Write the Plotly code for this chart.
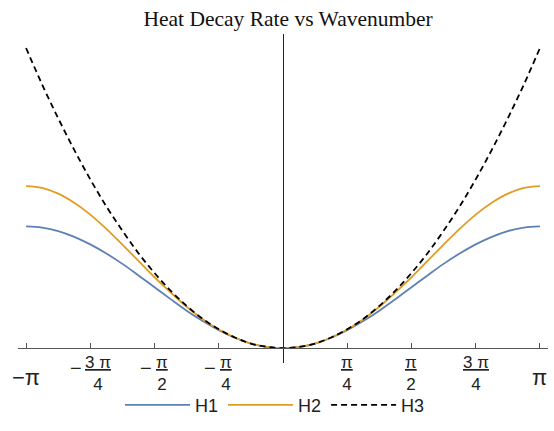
import plotly.graph_objects as go
import math

PI = math.pi

# wavenumber samples (multiples of pi/16)
k_vals = [j * PI / 16 for j in range(-16, 17)]

# decay rates
h1_vals = [4.00, 3.96, 3.85, 3.66, 3.41, 3.11, 2.77, 2.39, 2.00, 1.61, 1.23, 0.89, 0.59, 0.34, 0.15, 0.04, 0.00,
           0.04, 0.15, 0.34, 0.59, 0.89, 1.23, 1.61, 2.00, 2.39, 2.77, 3.11, 3.41, 3.66, 3.85, 3.96, 4.00]
h2_vals = [5.33, 5.27, 5.08, 4.78, 4.39, 3.92, 3.40, 2.87, 2.33, 1.83, 1.36, 0.95, 0.61, 0.35, 0.15, 0.04, 0.00,
           0.04, 0.15, 0.35, 0.61, 0.95, 1.36, 1.83, 2.33, 2.87, 3.40, 3.92, 4.39, 4.78, 5.08, 5.27, 5.33]
h3_vals = [9.87, 8.67, 7.56, 6.52, 5.55, 4.66, 3.86, 3.12, 2.47, 1.89, 1.39, 0.96, 0.62, 0.35, 0.15, 0.04, 0.00,
           0.04, 0.15, 0.35, 0.62, 0.96, 1.39, 1.89, 2.47, 3.12, 3.86, 4.66, 5.55, 6.52, 7.56, 8.67, 9.87]

series_names = ["H1", "H2", "H3"]

# tick positions and labels: (sign, numerator, denominator)
tick_vals = [-PI, -3 * PI / 4, -PI / 2, -PI / 4, PI / 4, PI / 2, 3 * PI / 4, PI]
tick_labels = [("−", "π", None), ("−", "3 π", "4"), ("−", "π", "2"), ("−", "π", "4"),
               ("", "π", "4"), ("", "π", "2"), ("", "3 π", "4"), ("", "π", None)]

title_text = "Heat Decay Rate vs Wavenumber"

fig = go.Figure()
fig.add_trace(go.Scatter(x=k_vals, y=h1_vals, name=series_names[0], mode="lines",
                         line=dict(color="#5E81B5", width=1.8, shape="spline")))
fig.add_trace(go.Scatter(x=k_vals, y=h2_vals, name=series_names[1], mode="lines",
                         line=dict(color="#E19C24", width=1.8, shape="spline")))
fig.add_trace(go.Scatter(x=k_vals, y=h3_vals, name=series_names[2], mode="lines",
                         line=dict(color="black", width=1.8, shape="spline", dash="6px,4px")))

y_range = [-0.49, 10.33]
x_range = [-3.24, 3.24]

annotations = []
sans = "Liberation Sans, Arial"
tick_font = dict(family=sans, size=17, color="#222")
for xv, (sign, num, den) in zip(tick_vals, tick_labels):
    if den is None:
        annotations.append(dict(x=xv, y=0, xref="x", yref="y", showarrow=False,
                                text=sign + num, yshift=-29, xanchor="center", yanchor="middle",
                                font=dict(family=sans, size=22, color="#222")))
        continue
    half = 12.2 if "3" in num else 6.3
    frac_shift = 7.5 if sign else 0
    annotations.append(dict(x=xv, y=0, xref="x", yref="y", showarrow=False,
                            text="<u>" + num + "</u><br>" + den, yshift=-25,
                            xshift=frac_shift, xanchor="center", yanchor="middle",
                            font=tick_font))
    if sign:
        annotations.append(dict(x=xv, y=0, xref="x", yref="y", showarrow=False,
                                text=sign, yshift=-20, xshift=frac_shift - half - 9.7,
                                xanchor="center", yanchor="middle",
                                font=dict(family=sans, size=20, color="#222")))

fig.update_layout(
    width=554, height=431,
    margin=dict(l=18, r=6, t=34, b=68),
    paper_bgcolor="white", plot_bgcolor="white",
    title=dict(text=title_text, x=0.52, xanchor="center", y=0.958, yanchor="middle",
               font=dict(family="Liberation Serif, Times New Roman", size=21.5, color="#111")),
    xaxis=dict(range=x_range, anchor="free",
               position=(0 - y_range[0]) / (y_range[1] - y_range[0]),
               showline=True, linecolor="#555", linewidth=1,
               ticks="inside", ticklen=5, tickcolor="#555", tickwidth=1,
               tickvals=tick_vals, showticklabels=False, showgrid=False,
               zeroline=True, zerolinecolor="#222", zerolinewidth=1),
    yaxis=dict(range=y_range, showline=False, showticklabels=False, showgrid=False,
               zeroline=False, ticks=""),
    showlegend=True,
    legend=dict(orientation="h", x=0.485, xanchor="center", y=-0.128, yanchor="middle",
                font=dict(family=sans, size=18, color="#222"),
                itemwidth=65, bgcolor="rgba(0,0,0,0)"),
    annotations=annotations,
)

fig.write_html("out.html", config={"displayModeBar": False},
               post_script="document.body.style.margin='0';")
